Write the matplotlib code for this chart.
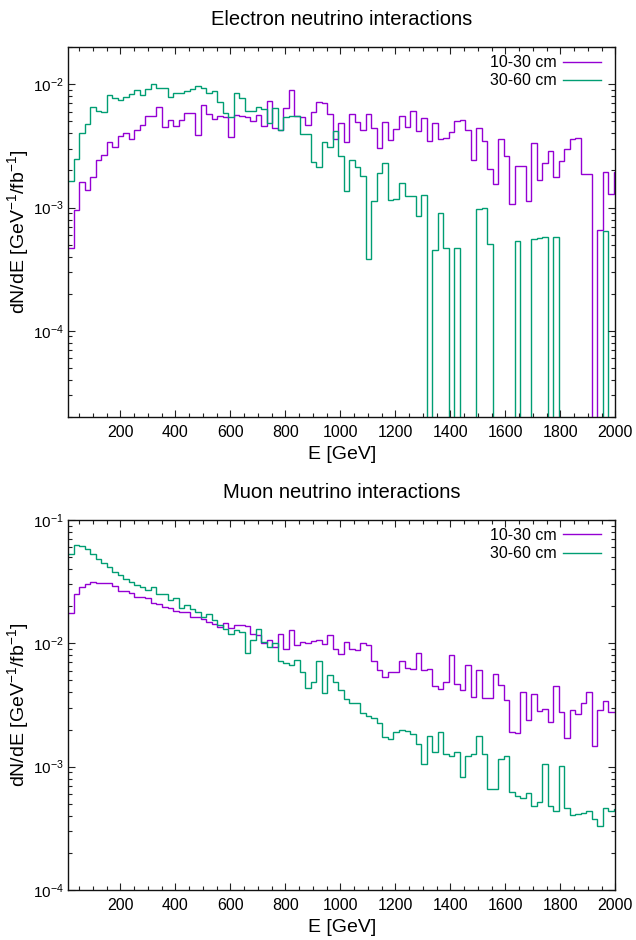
import numpy as np
import matplotlib
matplotlib.use("Agg")
import matplotlib.pyplot as plt
from matplotlib.ticker import MultipleLocator, LogLocator, NullFormatter

plt.rcParams['font.family'] = ['Liberation Sans', 'DejaVu Sans']
plt.rcParams['mathtext.fontset'] = 'custom'
plt.rcParams['mathtext.rm'] = 'Liberation Sans'
plt.rcParams['mathtext.default'] = 'regular'

# Energy bins (GeV): 100 bins of ~20 GeV
E_EDGES = np.linspace(11, 2015, 101)

LABELS = ["10-30 cm", "30-60 cm"]

# electron neutrino, dN/dE [GeV^-1 / fb^-1]
NUE_10_30 = [
    4.74e-4, 9.64e-4, 1.60e-3, 1.39e-3, 1.78e-3, 2.41e-3, 2.67e-3, 3.41e-3, 3.10e-3, 3.81e-3,
    4.01e-3, 3.58e-3, 4.24e-3, 4.71e-3, 5.57e-3, 5.57e-3, 6.51e-3, 4.51e-3, 5.11e-3, 4.59e-3,
    5.11e-3, 5.86e-3, 5.89e-3, 3.88e-3, 6.84e-3, 5.71e-3, 5.20e-3, 5.57e-3, 5.47e-3, 3.74e-3,
    5.68e-3, 5.54e-3, 5.40e-3, 5.04e-3, 5.64e-3, 4.59e-3, 7.33e-3, 4.43e-3, 4.26e-3, 6.39e-3,
    9.00e-3, 5.57e-3, 5.47e-3, 4.65e-3, 5.97e-3, 7.24e-3, 7.10e-3, 5.75e-3, 3.58e-3, 4.89e-3,
    3.41e-3, 5.78e-3, 4.92e-3, 4.26e-3, 5.78e-3, 4.45e-3, 3.07e-3, 4.98e-3, 3.54e-3, 4.32e-3,
    5.57e-3, 4.51e-3, 6.11e-3, 4.19e-3, 5.33e-3, 3.47e-3, 4.83e-3, 3.58e-3, 3.65e-3, 4.08e-3,
    5.07e-3, 5.17e-3, 4.29e-3, 2.41e-3, 4.40e-3, 3.47e-3, 2.05e-3, 1.56e-3, 3.58e-3, 2.64e-3,
    1.07e-3, 2.16e-3, 2.19e-3, 1.14e-3, 3.37e-3, 1.68e-3, 2.29e-3, 2.88e-3, 1.76e-3, 2.38e-3,
    2.99e-3, 3.60e-3, 3.65e-3, 1.87e-3, 1.87e-3, 0.0, 6.59e-4, 1.93e-3, 1.29e-3, 1.96e-3,
]
NUE_30_60 = [
    1.64e-3, 2.50e-3, 4.01e-3, 4.74e-3, 6.59e-3, 6.11e-3, 6.01e-3, 8.19e-3, 7.80e-3, 7.46e-3,
    7.94e-3, 8.35e-3, 9.00e-3, 8.19e-3, 9.10e-3, 1.00e-2, 9.28e-3, 9.28e-3, 7.94e-3, 8.56e-3,
    8.56e-3, 8.83e-3, 9.10e-3, 9.69e-3, 9.40e-3, 8.45e-3, 8.83e-3, 7.24e-3, 5.82e-3, 5.40e-3,
    8.56e-3, 7.70e-3, 6.08e-3, 6.11e-3, 6.59e-3, 6.31e-3, 4.83e-3, 6.47e-3, 4.26e-3, 5.47e-3,
    5.54e-3, 5.54e-3, 3.96e-3, 3.96e-3, 2.33e-3, 2.15e-3, 3.43e-3, 3.12e-3, 4.19e-3, 2.64e-3,
    1.36e-3, 2.41e-3, 2.12e-3, 1.81e-3, 3.86e-4, 1.12e-3, 1.90e-3, 2.29e-3, 1.15e-3, 1.18e-3,
    1.59e-3, 1.25e-3, 1.23e-3, 8.56e-4, 1.27e-3, 0.0, 4.54e-4, 9.00e-4, 4.74e-4, 0.0,
    4.74e-4, 0.0, 0.0, 0.0, 9.75e-4, 1.00e-3, 5.07e-4, 0.0, 0.0, 0.0,
    0.0, 5.37e-4, 0.0, 0.0, 5.53e-4, 5.64e-4, 5.75e-4, 0.0, 5.75e-4, 0.0,
    0.0, 0.0, 0.0, 0.0, 0.0, 0.0, 0.0, 6.47e-4, 0.0, 0.0,
]

# muon neutrino
NUMU_10_30 = [
    0.0175, 0.0250, 0.0288, 0.0303, 0.0316, 0.0310, 0.0310, 0.0310, 0.0292, 0.0267,
    0.0267, 0.0258, 0.0239, 0.0239, 0.0232, 0.0214, 0.0207, 0.0198, 0.0192, 0.0183,
    0.0178, 0.0178, 0.0163, 0.0163, 0.0157, 0.0150, 0.0144, 0.0135, 0.0145, 0.0132,
    0.0141, 0.0141, 0.0137, 0.01183, 0.01169, 0.0100, 0.01064, 0.00940, 0.01198, 0.00894,
    0.01283, 0.00964, 0.01019, 0.0100, 0.01051, 0.01064, 0.00982, 0.01161, 0.00906, 0.00824,
    0.01032, 0.00906, 0.00883, 0.01012, 0.00964, 0.00715, 0.00608, 0.00537, 0.00582, 0.00582,
    0.00715, 0.00631, 0.00619, 0.00830, 0.00608, 0.00619, 0.00451, 0.00429, 0.00483, 0.00799,
    0.00471, 0.00421, 0.00667, 0.00365, 0.00608, 0.00358, 0.00358, 0.00561, 0.00462, 0.00345,
    0.00192, 0.00189, 0.00401, 0.00239, 0.00388, 0.00283, 0.00292, 0.00230, 0.00454, 0.00276,
    0.00172, 0.00286, 0.00267, 0.00330, 0.00401, 0.00147, 0.00288, 0.00339, 0.00276, 0.00276,
]
NUMU_30_60 = [
    0.0530, 0.0627, 0.0616, 0.0578, 0.0530, 0.0486, 0.0448, 0.0413, 0.0379, 0.0358,
    0.0330, 0.0316, 0.0295, 0.0288, 0.0269, 0.0285, 0.0251, 0.0253, 0.0225, 0.0232,
    0.0195, 0.0203, 0.0189, 0.0178, 0.0163, 0.0172, 0.0155, 0.0141, 0.0130, 0.0120,
    0.0129, 0.0124, 0.0083, 0.0106, 0.01306, 0.01025, 0.0094, 0.0100, 0.00719, 0.00697,
    0.00667, 0.00728, 0.00586, 0.00437, 0.00489, 0.00715, 0.00398, 0.00557, 0.00489, 0.00421,
    0.00354, 0.00326, 0.00330, 0.00271, 0.00257, 0.00250, 0.00225, 0.00175, 0.00169, 0.00192,
    0.00198, 0.00196, 0.00184, 0.00152, 0.00105, 0.00178, 0.001306, 0.00192, 0.00126, 0.00122,
    0.00132, 0.00083, 0.00122, 0.00126, 0.00178, 0.00126, 0.00066, 0.00066, 0.00115, 0.00121,
    0.000627, 0.000582, 0.000554, 0.000608, 0.000480, 0.000520, 0.001045, 0.000480, 0.000437, 0.00101,
    0.000459, 0.000406, 0.000413, 0.000419, 0.000440, 0.000376, 0.000330, 0.000459, 0.000437, 0.000451,
]

COLORS = ["#9400D3", "#009E73"]


def draw_panel(ax, series, title, ylim):
    for values, label, color in zip(series, LABELS, COLORS):
        v = np.asarray(values, dtype=float)
        # empty bins drop below the axis on the log scale
        v = np.where(v > 0, v, 1e-12)
        ax.stairs(v, E_EDGES, baseline=None, color=color, lw=1.0, label=label)

    ax.set_yscale("log")
    ax.set_xlim(11, 2000)
    ax.set_ylim(*ylim)
    ax.xaxis.set_major_locator(MultipleLocator(200))
    ax.xaxis.set_minor_locator(MultipleLocator(50))
    ax.yaxis.set_major_locator(LogLocator(base=10))
    ax.yaxis.set_minor_locator(LogLocator(base=10, subs=np.arange(2, 10)))
    ax.yaxis.set_minor_formatter(NullFormatter())
    ax.tick_params(which="both", direction="in", top=True, right=True,
                   labelsize=11.5, color="#222222")
    ax.tick_params(which="major", length=4.8, width=0.8)
    ax.tick_params(which="minor", length=2.6, width=0.8)
    ax.tick_params(axis="x", pad=6)
    ax.tick_params(axis="y", pad=3, labelsize=11)
    for sp in ax.spines.values():
        sp.set_linewidth(1.0)
        sp.set_color("#111111")

    ax.set_title(title, fontsize=14.5, pad=16)
    ax.set_xlabel("E [GeV]", fontsize=14, labelpad=4)
    ax.set_ylabel(r"dN/dE [GeV$^{-1}$/fb$^{-1}$]", fontsize=14)
    ax.yaxis.set_label_coords(-0.069, 0.5)
    ax.legend(loc="upper right", bbox_to_anchor=(0.989, 1.0), frameon=False,
              markerfirst=False, fontsize=11.5, handlelength=2.4,
              handletextpad=0.4, labelspacing=0.2, borderaxespad=0.1)


fig = plt.figure(figsize=(6.36, 9.40), dpi=100)
ax_top = fig.add_axes([0.1074, 0.5564, 0.8601, 0.3934])
ax_bot = fig.add_axes([0.1074, 0.0532, 0.8601, 0.3936])

draw_panel(ax_top, [NUE_10_30, NUE_30_60], "Electron neutrino interactions", (2e-5, 2e-2))
draw_panel(ax_bot, [NUMU_10_30, NUMU_30_60], "Muon neutrino interactions", (1e-4, 1e-1))

fig.savefig("out.png", dpi=100)
